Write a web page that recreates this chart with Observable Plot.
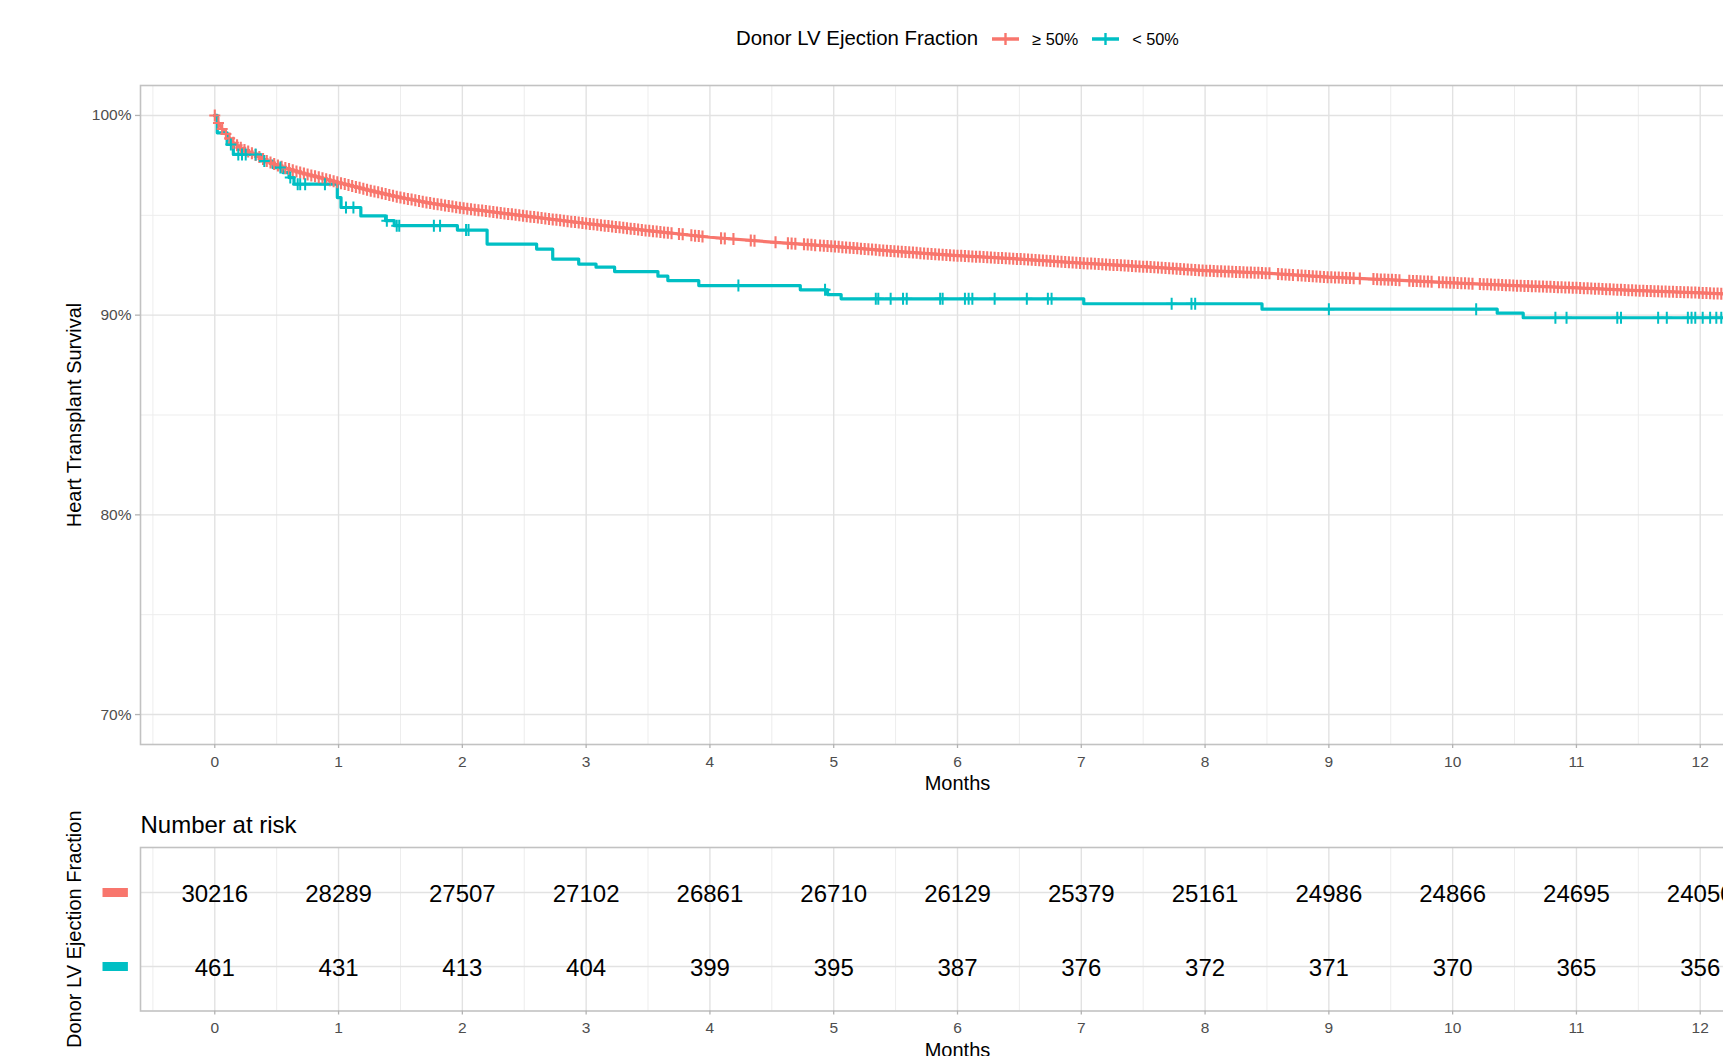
<!DOCTYPE html>
<html>
<head>
<meta charset="utf-8">
<script src="https://cdn.jsdelivr.net/npm/d3@7"></script>
<script src="https://cdn.jsdelivr.net/npm/@observablehq/plot@0.6"></script>
<style>
html,body{margin:0;padding:0;background:#fff;overflow:hidden;}
#page{position:relative;width:1723px;height:1056px;overflow:hidden;background:#fff;font-family:"Liberation Sans",Arial,Helvetica,sans-serif;color:#000;}
#legend{position:absolute;left:736px;top:26px;height:25px;display:flex;align-items:center;white-space:nowrap;}
#legend .title{font-size:20.4px;}
#legend .lab{font-size:16.3px;position:relative;top:1px;}
#legend svg{display:block;}
#main{position:absolute;left:0;top:60px;width:1784px;}
#risk{position:absolute;left:0;top:800px;width:1784px;}
#main svg,#risk svg{max-width:none !important;display:block;}
</style>
</head>
<body>
<div id="page">
  <div id="legend"></div>
  <div id="main"></div>
  <div id="risk"></div>
</div>
<script>
const FONT = '"Liberation Sans", Arial, Helvetica, sans-serif';
const RED = "#F8766D", TEAL = "#00BFC4";

// ---- text / categories ----
const legendTitle = "Donor LV Ejection Fraction";
const groups = ["≥ 50%", "< 50%"];
const yTitle = "Heart Transplant Survival";
const xTitle = "Months";
const riskTitle = "Number at risk";
const riskYTitle = "Donor LV Ejection Fraction";

// ---- ticks ----
const xMajor = [0,1,2,3,4,5,6,7,8,9,10,11,12];
const xMinor = [-0.5,0.5,1.5,2.5,3.5,4.5,5.5,6.5,7.5,8.5,9.5,10.5,11.5,12.5];
const yMajor = [70,80,90,100];
const yMinor = [75,85,95];
const xLimits = [-0.6, 12.6];
const yLimits = [68.5, 101.5];

// ---- survival curve, EF >= 50% (months, % surviving) ----
const redTime = [0,0.02,0.07,0.15,0.23,0.32,0.42,0.50,0.56,0.69,0.83,1.00,1.25,1.50,1.75,2.00,2.50,3.00,3.50,4.00,4.50,5.00,5.50,6.00,6.50,7.00,7.50,8.00,8.50,9.00,9.50,10.00,10.50,11.00,11.50,12.00,12.20];
const redSurv = [100,99.72,99.22,98.63,98.30,98.05,97.72,97.52,97.39,97.14,96.92,96.64,96.25,95.89,95.60,95.36,94.97,94.59,94.23,93.90,93.66,93.44,93.19,92.98,92.81,92.61,92.43,92.23,92.10,91.90,91.77,91.62,91.48,91.37,91.23,91.12,91.06];

// ---- survival curve, EF < 50% (step function) ----
const tealTime = [0,0.02,0.10,0.15,0.37,0.47,0.55,0.60,0.64,0.99,1.02,1.18,1.38,1.45,1.96,2.20,2.60,2.73,2.94,3.08,3.23,3.58,3.66,3.91,4.73,4.95,5.06,7.02,8.46,10.36,10.57,12.20];
const tealSurv = [100,99.13,98.55,98.05,97.72,97.39,97.14,96.89,96.56,95.89,95.39,94.97,94.73,94.48,94.26,93.56,93.31,92.81,92.56,92.40,92.18,91.95,91.73,91.48,91.27,91.03,90.82,90.57,90.30,90.10,89.87,89.87];

// ---- censoring times (months) ----
const redCensor = [
0.00,0.03,0.06,0.09,0.12,0.15,0.18,0.21,0.24,0.27,0.30,0.33,0.36,0.39,0.42,0.45,0.48,0.51,0.54,0.57,0.60,0.63,0.66,0.69,0.72,0.75,0.78,0.81,0.84,0.87,0.90,0.93,0.96,0.99,
1.02,1.05,1.08,1.11,1.14,1.17,1.20,1.23,1.26,1.29,1.32,1.35,1.38,1.41,1.44,1.47,1.50,1.53,1.56,1.59,1.62,1.65,1.68,1.71,1.74,1.77,1.80,1.83,1.86,1.89,1.92,1.95,1.98,
2.01,2.04,2.07,2.10,2.13,2.16,2.19,2.22,2.25,2.28,2.31,2.34,2.37,2.40,2.43,2.46,2.49,2.52,2.55,2.58,2.61,2.64,2.67,2.70,2.73,2.76,2.79,2.82,2.85,2.88,2.91,2.94,2.97,
3.00,3.03,3.06,3.09,3.12,3.15,3.18,3.21,3.24,3.27,3.30,3.33,3.36,3.39,3.42,3.45,3.48,3.51,3.54,3.57,3.60,3.63,3.66,3.69,
3.75,3.78,3.85,3.88,3.91,3.94,4.09,4.12,4.19,4.33,4.36,4.53,4.63,4.66,4.69,4.76,4.79,4.82,4.85,
4.89,4.92,4.95,4.98,5.01,5.04,5.07,5.10,5.13,5.16,5.19,5.22,5.25,5.28,5.31,5.34,5.37,5.40,5.43,5.46,5.49,5.52,5.55,5.58,5.61,5.64,5.67,5.70,5.73,5.76,5.79,5.82,5.85,5.88,5.91,5.94,5.97,
6.00,6.03,6.06,6.09,6.12,6.15,6.18,6.21,6.24,6.27,6.30,6.33,6.36,6.39,6.42,6.45,6.48,6.51,6.54,6.57,6.60,6.63,6.66,6.69,6.72,6.75,6.78,6.81,6.84,6.87,6.90,6.93,6.96,6.99,
7.02,7.05,7.08,7.11,7.14,7.17,7.20,7.23,7.26,7.29,7.32,7.35,7.38,7.41,7.44,7.47,7.50,7.53,7.56,7.59,7.62,7.65,7.68,7.71,7.74,7.77,7.80,7.83,7.86,7.89,7.92,7.95,7.98,
8.01,8.04,8.07,8.10,8.13,8.16,8.19,8.22,8.25,8.28,8.31,8.34,8.37,8.40,8.43,8.46,8.49,8.52,
8.59,8.62,8.65,8.68,8.71,
8.75,8.78,8.81,8.84,8.87,8.90,8.93,8.96,8.99,9.02,9.05,9.08,9.11,9.14,9.17,9.20,
9.25,
9.36,9.39,9.42,9.45,9.48,9.51,9.54,9.57,
9.65,9.68,9.71,9.74,9.77,9.80,9.83,
9.89,9.92,9.95,9.98,10.01,10.04,10.07,10.10,10.13,10.16,
10.22,10.25,10.28,10.31,10.34,10.37,10.40,10.43,10.46,10.49,10.52,10.55,10.58,10.61,10.64,10.67,10.70,10.73,10.76,10.79,10.82,10.85,10.88,10.91,10.94,10.97,
11.00,11.03,11.06,11.09,11.12,11.15,11.18,11.21,11.24,11.27,11.30,11.33,11.36,11.39,11.42,11.45,11.48,11.51,11.54,11.57,11.60,11.63,11.66,11.69,11.72,11.75,11.78,11.81,11.84,11.87,11.90,11.93,11.96,11.99,
12.02,12.05,12.08,12.11,12.14,12.17
];
const tealCensor = [0.13,0.19,0.22,0.25,0.33,0.40,0.53,0.61,0.67,0.69,0.73,0.89,1.06,1.12,1.39,1.47,1.49,1.77,1.82,2.03,2.05,4.23,4.93,5.34,5.36,5.46,5.56,5.59,5.86,5.88,6.06,6.09,6.12,6.30,6.56,6.73,6.76,7.73,7.89,7.92,9.00,10.19,10.83,10.92,11.33,11.36,11.66,11.73,11.90,11.93,11.96,12.02,12.08,12.13,12.17];

// ---- number at risk ----
const riskMonths = [0,1,2,3,4,5,6,7,8,9,10,11,12];
const riskHigh = [30216,28289,27507,27102,26861,26710,26129,25379,25161,24986,24866,24695,24050];
const riskLow = [461,431,413,404,399,395,387,376,372,371,370,365,356];

// ---- helpers ----
function linearAt(times, vals, t) {
  const i = d3.bisectRight(times, t);
  if (i <= 0) return vals[0];
  if (i >= times.length) return vals[vals.length - 1];
  const t0 = times[i - 1], t1 = times[i];
  return vals[i - 1] + (vals[i] - vals[i - 1]) * (t - t0) / (t1 - t0);
}
function stepAt(times, vals, t) {
  const i = d3.bisectRight(times, t) - 1;
  return vals[Math.max(0, i)];
}
const redCurve = redTime.map((t, i) => ({t, s: redSurv[i]}));
const tealCurve = tealTime.map((t, i) => ({t, s: tealSurv[i]}));
const redMarks = redCensor.map(t => ({t, s: linearAt(redTime, redSurv, t)}));
const tealMarks = tealCensor.map(t => ({t, s: stepAt(tealTime, tealSurv, t)}));

const plusSym = {draw(ctx) { ctx.moveTo(-5.5, 0); ctx.lineTo(5.5, 0); ctx.moveTo(0, -6); ctx.lineTo(0, 6); }};
const rectSym = {draw(ctx) { ctx.rect(-12.7, -4.5, 25.4, 9); }};

const GRID_MAJ = "#E2E2E2", GRID_MIN = "#EDEDED", BORDER = "#C2C2C2", TICK = "#B3B3B3", TXT = "#4D4D4D";

// ---- legend ----
function keySvg(color) {
  return `<svg width="27" height="14" viewBox="0 0 27 14"><line x1="0" y1="7" x2="27" y2="7" stroke="${color}" stroke-width="3.5"/><line x1="13.5" y1="1" x2="13.5" y2="13" stroke="${color}" stroke-width="2.4"/></svg>`;
}
document.getElementById("legend").innerHTML =
  `<span class="title">${legendTitle}</span>` +
  `<span style="margin-left:14px">${keySvg(RED)}</span>` +
  `<span class="lab" style="margin-left:13px">${groups[0]}</span>` +
  `<span style="margin-left:14px">${keySvg(TEAL)}</span>` +
  `<span class="lab" style="margin-left:13px">${groups[1]}</span>`;

// ---- main survival plot ----
const main = Plot.plot({
  width: 1784, height: 740,
  marginLeft: 140, marginRight: 10, marginTop: 25, marginBottom: 56,
  style: {fontFamily: FONT, background: "white", maxWidth: "none", overflow: "visible"},
  x: {domain: xLimits},
  y: {domain: yLimits},
  marks: [
    Plot.ruleX(xMinor, {stroke: GRID_MIN, strokeWidth: 1}),
    Plot.ruleY(yMinor, {stroke: GRID_MIN, strokeWidth: 1}),
    Plot.ruleX(xMajor, {stroke: GRID_MAJ, strokeWidth: 1.4}),
    Plot.ruleY(yMajor, {stroke: GRID_MAJ, strokeWidth: 1.4}),
    Plot.line(redCurve, {x: "t", y: "s", stroke: RED, strokeWidth: 3.2, clip: true}),
    Plot.line(tealCurve, {x: "t", y: "s", stroke: TEAL, strokeWidth: 3.2, curve: "step-after", clip: true}),
    Plot.dot(redMarks, {x: "t", y: "s", symbol: plusSym, fill: "none", stroke: RED, strokeWidth: 2.1, clip: true}),
    Plot.dot(tealMarks, {x: "t", y: "s", symbol: plusSym, fill: "none", stroke: TEAL, strokeWidth: 2, clip: true}),
    Plot.frame({stroke: BORDER, strokeWidth: 1.6}),
    Plot.axisX(xMajor, {anchor: "bottom", tickSize: 4, tickPadding: 7, stroke: TICK, strokeWidth: 1.3, fill: TXT, fontSize: 15.5, tickFormat: d => String(d), label: null}),
    Plot.axisY(yMajor, {anchor: "left", tickSize: 5, tickPadding: 4, stroke: TICK, strokeWidth: 1.3, fill: TXT, fontSize: 15.5, tickFormat: d => d + "%", label: null}),
    Plot.text([xTitle], {text: d => d, frameAnchor: "bottom", lineAnchor: "top", dy: 31, fontSize: 20, fill: "black"}),
    Plot.text([yTitle], {text: d => d, frameAnchor: "left", textAnchor: "middle", rotate: -90, lineAnchor: "middle", dx: -66.4, fontSize: 20, fill: "black"})
  ]
});
document.getElementById("main").appendChild(main);

// ---- risk table ----
const riskData = [];
riskMonths.forEach((m, i) => {
  riskData.push({t: m, g: groups[0], n: riskHigh[i]});
  riskData.push({t: m, g: groups[1], n: riskLow[i]});
});
const keyData = groups.map((g, i) => ({g, c: i ? TEAL : RED}));

const risk = Plot.plot({
  width: 1784, height: 300,
  marginLeft: 140, marginRight: 10, marginTop: 47, marginBottom: 89.5,
  style: {fontFamily: FONT, background: "white", maxWidth: "none", overflow: "visible"},
  x: {domain: xLimits},
  y: {type: "point", domain: groups, padding: 0.6, axis: null},
  color: {type: "identity"},
  marks: [
    Plot.ruleX(xMinor, {stroke: GRID_MIN, strokeWidth: 1}),
    Plot.ruleX(xMajor, {stroke: GRID_MAJ, strokeWidth: 1.4}),
    Plot.ruleY(groups, {y: d => d, stroke: GRID_MAJ, strokeWidth: 1.4}),
    Plot.frame({stroke: BORDER, strokeWidth: 1.6}),
    Plot.text(riskData, {x: "t", y: "g", text: d => String(d.n), fontSize: 24, fill: "black", dy: 1.5}),
    Plot.dot(keyData, {y: "g", frameAnchor: "left", dx: -25.3, symbol: rectSym, fill: "c", stroke: "none"}),
    Plot.axisX(xMajor, {anchor: "bottom", tickSize: 4, tickPadding: 7, stroke: TICK, strokeWidth: 1.3, fill: TXT, fontSize: 15.5, tickFormat: d => String(d), label: null}),
    Plot.text([xTitle], {text: d => d, frameAnchor: "bottom", lineAnchor: "top", dy: 32, fontSize: 20, fill: "black"}),
    Plot.text([riskTitle], {text: d => d, frameAnchor: "top-left", textAnchor: "start", lineAnchor: "top", dy: -32, fontSize: 24, fill: "black"}),
    Plot.text([riskYTitle], {text: d => d, frameAnchor: "left", textAnchor: "middle", rotate: -90, lineAnchor: "middle", dx: -66.4, fontSize: 20, fill: "black"})
  ]
});
document.getElementById("risk").appendChild(risk);
</script>
</body>
</html>
